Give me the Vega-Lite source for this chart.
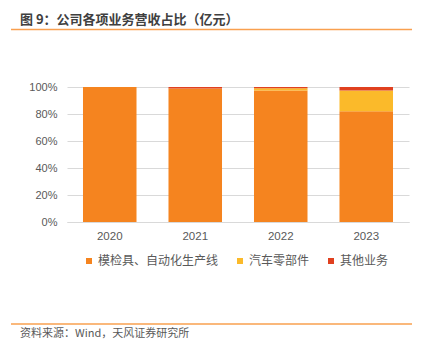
{
  "$schema": "https://vega.github.io/schema/vega-lite/v6.json",
  "width": 342,
  "height": 135,
  "autosize": "none",
  "padding": {"left": 67, "top": 87, "right": 20, "bottom": 129},
  "background": "white",
  "config": {"view": {"stroke": null}, "font": "Liberation Sans"},
  "title": {
    "text": "图 9：公司各项业务营收占比（亿元）",
    "anchor": "start",
    "frame": "group",
    "dx": -47,
    "offset": 2,
    "font": "Noto Sans CJK SC",
    "fontSize": 13,
    "fontWeight": "bold",
    "color": "#404040"
  },
  "resolve": {"scale": {"x": "independent", "y": "independent"}},
  "layer": [
    {
      "data": {
        "values": [
          {"year": "2020", "segment": "模检具、自动化生产线", "k": 1, "share": 100},
          {"year": "2020", "segment": "汽车零部件", "k": 2, "share": 0},
          {"year": "2020", "segment": "其他业务", "k": 3, "share": 0},
          {"year": "2021", "segment": "模检具、自动化生产线", "k": 1, "share": 98.8},
          {"year": "2021", "segment": "汽车零部件", "k": 2, "share": 0},
          {"year": "2021", "segment": "其他业务", "k": 3, "share": 1.2},
          {"year": "2022", "segment": "模检具、自动化生产线", "k": 1, "share": 97.5},
          {"year": "2022", "segment": "汽车零部件", "k": 2, "share": 1.5},
          {"year": "2022", "segment": "其他业务", "k": 3, "share": 1.0},
          {"year": "2023", "segment": "模检具、自动化生产线", "k": 1, "share": 82.0},
          {"year": "2023", "segment": "汽车零部件", "k": 2, "share": 15.5},
          {"year": "2023", "segment": "其他业务", "k": 3, "share": 2.5}
        ]
      },
      "mark": {"type": "bar"},
      "encoding": {
        "x": {
          "field": "year",
          "type": "nominal",
          "scale": {"paddingInner": 0.374, "paddingOuter": 0.187},
          "axis": {
            "title": null,
            "labelAngle": 0,
            "ticks": false,
            "domainColor": "#d9d9d9",
            "labelColor": "#595959",
            "labelFontSize": 11.5,
            "labelPadding": 8
          }
        },
        "y": {
          "field": "share",
          "type": "quantitative",
          "stack": "normalize",
          "scale": {"domain": [0, 1], "nice": false},
          "axis": {
            "title": null,
            "format": ".0%",
            "values": [0, 0.2, 0.4, 0.6, 0.8, 1],
            "domain": false,
            "ticks": false,
            "grid": true,
            "gridColor": "#d9d9d9",
            "labelOverlap": false,
            "labelColor": "#595959",
            "labelFont": "Liberation Sans",
            "labelFontSize": 11,
            "labelPadding": 10
          }
        },
        "color": {
          "field": "segment",
          "type": "nominal",
          "scale": {
            "domain": ["模检具、自动化生产线", "汽车零部件", "其他业务"],
            "range": ["#F5841F", "#FBBA2A", "#E0401F"]
          },
          "legend": {
            "title": null,
            "orient": "none",
            "legendX": 16,
            "legendY": 168,
            "direction": "horizontal",
            "symbolType": "square",
            "symbolSize": 36,
            "symbolStrokeWidth": 0,
            "labelFont": "Noto Sans CJK SC",
            "labelFontSize": 12,
            "labelColor": "#595959",
            "columnPadding": 15,
            "labelOffset": 3,
            "padding": 0
          }
        },
        "order": {"field": "k", "type": "quantitative"}
      }
    },
    {
      "data": {"values": [{}]},
      "mark": {"type": "rule", "color": "#F9A04F", "strokeWidth": 1.5},
      "encoding": {
        "x": {"datum": -0.1637, "type": "quantitative", "scale": {"domain": [0, 1]}, "axis": null},
        "x2": {"datum": 1.0088},
        "y": {"datum": 1.4259, "type": "quantitative", "scale": {"domain": [0, 1]}, "axis": null}
      }
    },
    {
      "data": {"values": [{}]},
      "mark": {"type": "rule", "color": "#F9A04F", "strokeWidth": 1.5},
      "encoding": {
        "x": {"datum": -0.1637, "type": "quantitative", "scale": {"domain": [0, 1]}, "axis": null},
        "x2": {"datum": 1.0088},
        "y": {"datum": -0.7556, "type": "quantitative", "scale": {"domain": [0, 1]}, "axis": null}
      }
    },
    {
      "data": {"values": [{"src": "资料来源：Wind，天风证券研究所"}]},
      "mark": {"type": "text", "align": "left", "baseline": "middle", "font": "Noto Sans CJK SC", "fontSize": 11, "color": "#595959"},
      "encoding": {
        "x": {"datum": -0.1374, "type": "quantitative", "scale": {"domain": [0, 1]}, "axis": null},
        "y": {"datum": -0.8296, "type": "quantitative", "scale": {"domain": [0, 1]}, "axis": null},
        "text": {"field": "src"}
      }
    }
  ]
}
